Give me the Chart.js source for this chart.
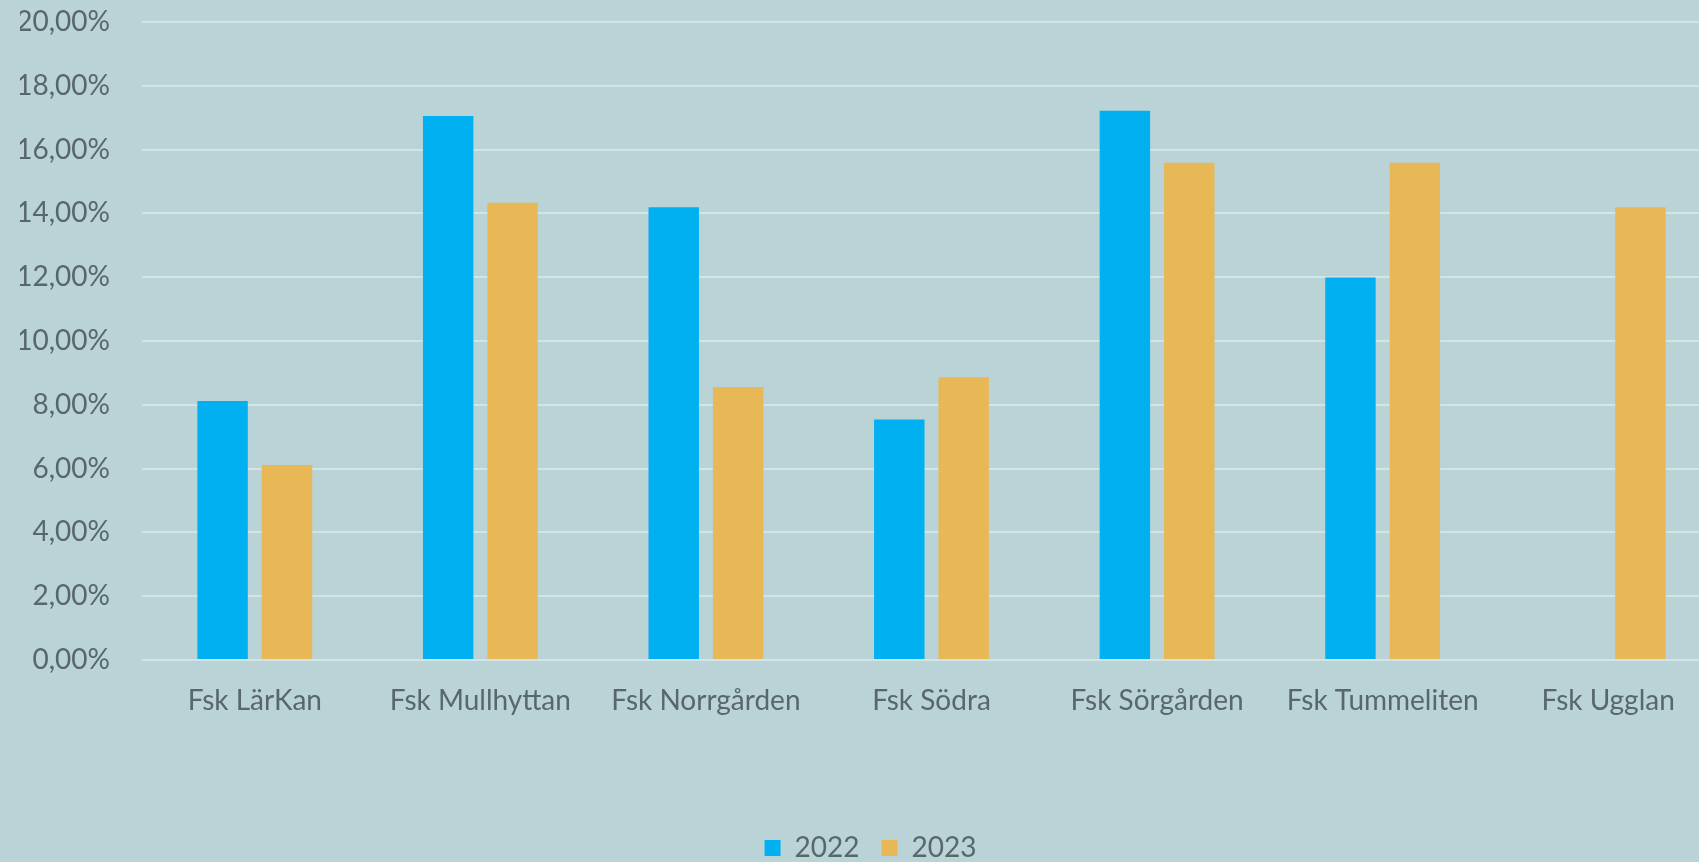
<!DOCTYPE html>
<html>
<head>
<meta charset="utf-8">
<script src="https://cdn.jsdelivr.net/npm/chart.js@4/dist/chart.umd.min.js"></script>
<style>
  html, body { margin: 0; padding: 0; background: #b9d3d7; overflow: hidden; }
  #wrap { width: 1740px; height: 872px; }
</style>
</head>
<body>
<div id="wrap"><canvas id="chart"></canvas></div>
<script>
const categories = ['Fsk LärKan', 'Fsk Mullhyttan', 'Fsk Norrgården', 'Fsk Södra', 'Fsk Sörgården', 'Fsk Tummeliten', 'Fsk Ugglan'];
const values2022 = [0.0812, 0.1705, 0.1419, 0.0754, 0.1722, 0.1199, null];
const values2023 = [0.0611, 0.1433, 0.0856, 0.0886, 0.1559, 0.1559, 0.1419];
const yTicks = [0, 0.02, 0.04, 0.06, 0.08, 0.10, 0.12, 0.14, 0.16, 0.18, 0.20];

const textColor = '#58676a';
const gridColor = '#d3e4e6';
const font = { family: 'Lato', size: 28 };

const ctx = document.getElementById('chart').getContext('2d');
new Chart(ctx, {
  type: 'bar',
  data: {
    labels: categories,
    datasets: [
      { label: '2022', data: values2022, backgroundColor: '#00b0f0', barPercentage: 0.783, categoryPercentage: 0.571 },
      { label: '2023', data: values2023, backgroundColor: '#e8b856', barPercentage: 0.783, categoryPercentage: 0.571 }
    ]
  },
  options: {
    responsive: true,
    maintainAspectRatio: false,
    animation: false,
    layout: { padding: { top: 22, right: 19, left: 20, bottom: 0 } },
    plugins: {
      tooltip: { enabled: false },
      legend: {
        position: 'bottom',
        labels: { color: textColor, font: font, boxWidth: 16, boxHeight: 16, padding: 22 }
      }
    },
    scales: {
      x: {
        grid: { display: false },
        border: { display: false },
        ticks: { color: textColor, font: font, padding: 16, maxRotation: 0 },
        afterFit: (scale) => { scale.height = 152; }
      },
      y: {
        min: 0,
        max: 0.2,
        afterBuildTicks: (scale) => { scale.ticks = yTicks.map(v => ({ value: v })); },
        grid: { color: gridColor, lineWidth: 2, drawTicks: true, tickLength: 32, tickColor: 'rgba(0,0,0,0)' },
        border: { display: false },
        ticks: {
          color: textColor,
          font: font,
          padding: 0,
          callback: (v) => (v * 100).toFixed(2).replace('.', ',') + '%'
        },
        afterFit: (scale) => { scale.width = 122; }
      }
    }
  }
});
</script>
</body>
</html>
